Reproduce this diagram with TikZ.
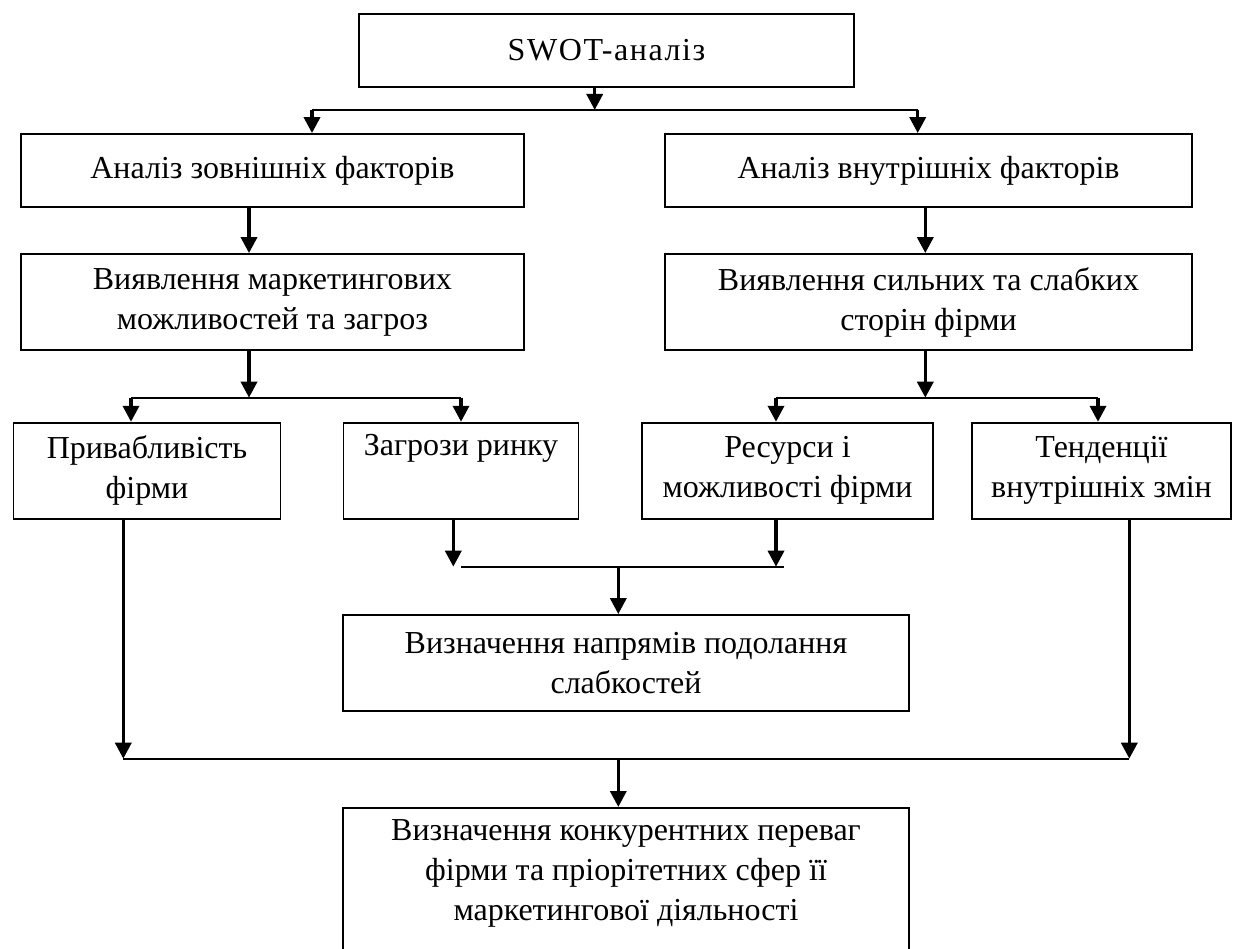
\documentclass[tikz,border=0pt]{standalone}
\usepackage{fontspec}
\setmainfont{Liberation Serif}
\usepackage{tikz}
\usetikzlibrary{arrows.meta}

\tikzset{
    blk/.style={draw, line width=1.8pt, rectangle, align=center, inner sep=0pt},
    arr/.style={-{Triangle[width=16pt,length=16pt]}, line width=3.5pt},
    bus/.style={line width=2pt}
}

\begin{document}
\begin{tikzpicture}[x=1pt, y=-1pt, font=\fontsize{32}{40}\selectfont]
    \useasboundingbox (0,0) rectangle (1233,949);
    \clip (0,0) rectangle (1233,949);

    % blocks
    \node[blk, minimum width=495pt, minimum height=73pt] (swot) at (606.5,50.3) {\addfontfeature{LetterSpace=5}SWOT-аналіз};
    \node[blk, minimum width=503pt, minimum height=73pt] (ext) at (272.4,170.5) {Аналіз зовнішніх факторів};
    \node[blk, minimum width=527pt, minimum height=73pt] (int) at (928.5,170.5) {Аналіз внутрішніх факторів};
    \node[blk, minimum width=503pt, minimum height=96pt] (opp) at (272.4,302) {Виявлення маркетингових\\можливостей та загроз};
    \node[blk, minimum width=527pt, minimum height=96pt] (str) at (928.5,302) {Виявлення сильних та слабких\\сторін фірми};
    \node[blk, minimum width=267pt, minimum height=96pt] (attr) at (147,470.7) {Привабливість\\фірми};
    \node[blk, minimum width=235pt, minimum height=96pt] (thr) at (461,470.7) {Загрози ринку\\\strut};
    \node[blk, minimum width=291pt, minimum height=96pt] (res) at (787.5,470.7) {Ресурси і\\можливості фірми};
    \node[blk, minimum width=259pt, minimum height=96pt] (trend) at (1101.5,470.7) {Тенденції\\внутрішніх змін};
    \node[blk, minimum width=566pt, minimum height=96pt] (weak) at (626,663) {Визначення напрямів подолання\\слабкостей};
    \node[blk, minimum width=566pt, minimum height=176pt, anchor=north] (adv) at (626,807) {Визначення конкурентних переваг\\фірми та пріорітетних сфер її\\маркетингової діяльності\\\strut};

    % junctions
    \coordinate (j0) at (594.7,110);
    \coordinate (b0l) at (312,110);
    \coordinate (b0r) at (917.7,110);
    \coordinate (j1) at (249,397.7);
    \coordinate (b1l) at (131,397.7);
    \coordinate (b1r) at (461,397.7);
    \coordinate (j2) at (925.3,397.7);
    \coordinate (b2l) at (776,397.7);
    \coordinate (b2r) at (1098,397.7);
    \coordinate (j3) at (618.3,566.7);
    \coordinate (b3l) at (461,566.7);
    \coordinate (b3r) at (783.7,566.7);
    \coordinate (j4) at (618.3,758.7);

    % SWOT -> two analyses
    \draw[arr] (swot.south -| j0) -- (j0);
    \draw[bus] (b0l) -- (b0r);
    \draw[arr] (b0l) -- (b0l |- ext.north);
    \draw[arr] (b0r) -- (b0r |- int.north);

    \draw[arr] (ext.south -| j1) -- (opp.north -| j1);
    \draw[arr] (int.south -| j2) -- (str.north -| j2);

    % second split
    \draw[arr] (opp.south -| j1) -- (j1);
    \draw[bus] (b1l) -- (b1r);
    \draw[arr] (b1l) -- (b1l |- attr.north);
    \draw[arr] (b1r) -- (b1r |- thr.north);

    \draw[arr] (str.south -| j2) -- (j2);
    \draw[bus] (b2l) -- (b2r);
    \draw[arr] (b2l) -- (b2l |- res.north);
    \draw[arr] (b2r) -- (b2r |- trend.north);

    % threats + resources -> weaknesses
    \draw[arr] ([xshift=-7.7pt]thr.south) -- ([xshift=-7.7pt]thr.south |- b3l);
    \draw[arr] ([xshift=-11.5pt]res.south) -- ([xshift=-11.5pt]res.south |- b3r);
    \draw[bus] (b3l) -- (b3r);
    \draw[arr] (j3) -- (j3 |- weak.north);

    % outer branches -> advantages
    \draw[arr] ([xshift=-23.7pt]attr.south) -- ([xshift=-23.7pt]attr.south |- j4);
    \draw[arr] ([xshift=27.8pt]trend.south) -- ([xshift=27.8pt]trend.south |- j4);
    \draw[bus] ([xshift=-23.7pt]attr.south |- j4) -- ([xshift=27.8pt]trend.south |- j4);
    \draw[arr] (j4) -- (adv.north -| j4);
\end{tikzpicture}
\end{document}
